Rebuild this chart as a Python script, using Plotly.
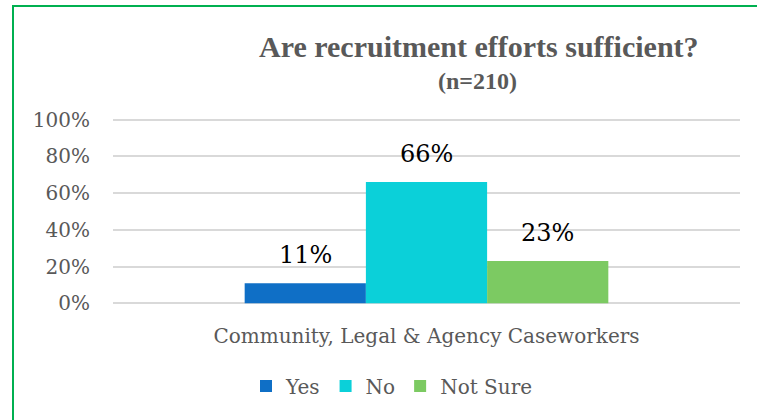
import plotly.graph_objects as go

CATEGORY = ["Community, Legal & Agency Caseworkers"]
SERIES = ["Yes", "No", "Not Sure"]
VALUES = [11, 66, 23]
COLORS = ["#0F6FC6", "#0BD0D9", "#7CCA62"]
Y_TICKS = [0, 20, 40, 60, 80, 100]
TITLE = "Are recruitment efforts sufficient?"
SUBTITLE = "(n=210)"

W, H = 757, 420
L, R, T, B = 113, 17, 116, 113
plot_w = W - L - R
plot_h = H - T - B
BARGAP = 0.42
bar_px = plot_w * (1 - BARGAP) / len(SERIES)

SERIF = "DejaVu Serif"
GREY = "#595959"


def px_x(px):
    return (px - L) / plot_w


def px_y(py):
    return (H - B - py) / plot_h


fig = go.Figure()
for name, val, col in zip(SERIES, VALUES, COLORS):
    fig.add_trace(go.Bar(
        x=CATEGORY, y=[val], name=name,
        marker=dict(color=col, line=dict(width=0)),
        hoverinfo="skip",
    ))

# data labels above each bar
for i, (name, val) in enumerate(zip(SERIES, VALUES)):
    fig.add_annotation(
        x=CATEGORY[0], y=val, xref="x", yref="y",
        text=f"{val}%", showarrow=False,
        xshift=(i - 1) * bar_px, yshift=12,
        yanchor="bottom",
        font=dict(family=SERIF, size=24, color="#000000"),
    )

# title, two bold lines
fig.add_annotation(
    xref="paper", yref="paper", x=px_x(479), y=px_y(47),
    xanchor="center", yanchor="middle",
    text=f"<b>{TITLE}</b>", showarrow=False,
    font=dict(family="Liberation Serif", size=30, color=GREY),
)
fig.add_annotation(
    xref="paper", yref="paper", x=px_x(477), y=px_y(81),
    xanchor="center", yanchor="middle",
    text=f"<b>{SUBTITLE}</b>", showarrow=False,
    font=dict(family="Liberation Serif", size=24, color=GREY),
)

# green outline of the chart frame
fig.add_shape(
    type="rect", xref="paper", yref="paper",
    x0=px_x(13), x1=px_x(W + 20),
    y0=px_y(H + 20), y1=px_y(6),
    line=dict(color="#00B050", width=2),
    fillcolor="rgba(0,0,0,0)",
)

fig.update_xaxes(
    type="category",
    showgrid=False, zeroline=False, showline=False,
    tickfont=dict(family=SERIF, size=20, color=GREY),
    ticks="", ticklabelstandoff=15,
)
fig.update_yaxes(
    range=[-2, 102], tickvals=Y_TICKS,
    ticktext=[f"{v}%" for v in Y_TICKS],
    showgrid=True, gridcolor="#D9D9D9", gridwidth=2,
    zeroline=False, showline=False,
    tickfont=dict(family=SERIF, size=20, color=GREY),
    ticks="", ticklabelstandoff=22,
)

fig.update_layout(
    width=W, height=H,
    margin=dict(l=L, r=R, t=T, b=B, pad=0),
    barmode="group", bargap=BARGAP, bargroupgap=0,
    paper_bgcolor="white", plot_bgcolor="white",
    showlegend=True,
    legend=dict(
        orientation="h", xref="container", yref="container",
        x=392 / W, y=1 - 386 / H, xanchor="center", yanchor="middle",
        font=dict(family=SERIF, size=20, color=GREY),
        itemwidth=30, tracegroupgap=0,
    ),
)

fig.write_html("out.html", config=dict(displayModeBar=False),
               post_script="document.body.style.margin='0';")
